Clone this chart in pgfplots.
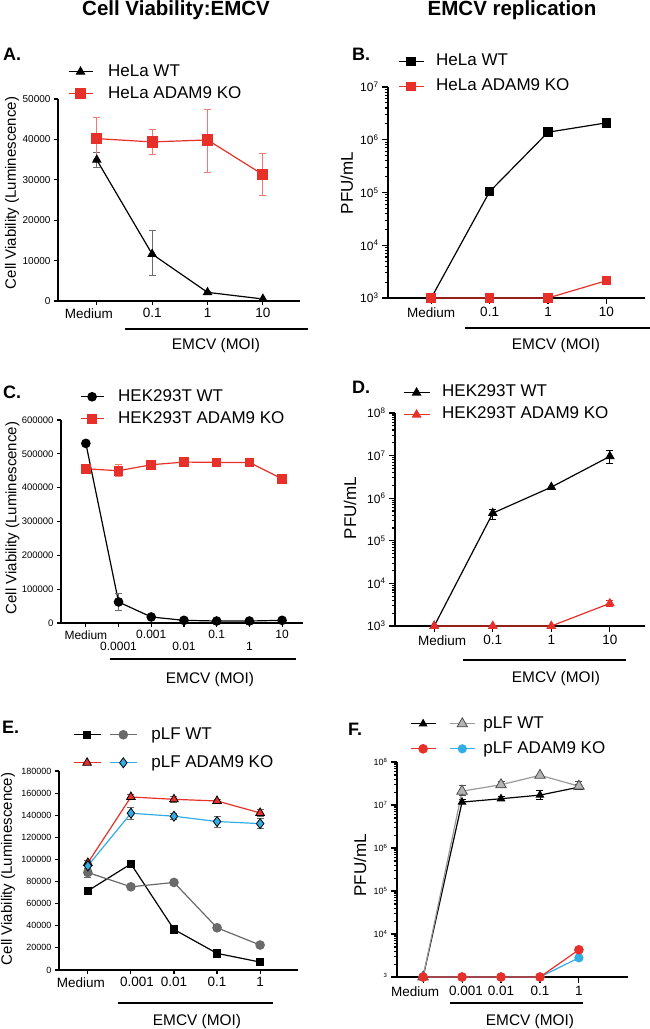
\documentclass[border=0pt]{standalone}
\usepackage{pgfplots}
\pgfplotsset{compat=1.18}
\usepackage{fontspec}
\setmainfont{Liberation Sans}
\newcommand{\fs}[1]{\fontsize{#1}{#1}\selectfont}
\definecolor{myred}{HTML}{E8302A}
\definecolor{errred}{HTML}{EE7A72}
\definecolor{myblue}{HTML}{33AEE4}
\definecolor{dgray}{HTML}{6A6A6A}
\definecolor{lgray}{HTML}{B4B4B4}
\definecolor{mgray}{HTML}{9A9A9A}
\pgfplotsset{
  panel/.style={
    scale only axis, clip=false, anchor=south west,
    axis lines*=left,
    tick align=outside,
    tick style={black, line width=1.1pt},
    major tick length=4pt,
    scaled ticks=false,
    xticklabel style={font=\fs{13.5}},
    yticklabel style={font=\fs{10}},
    ylabel style={font=\fs{15}, anchor=center},
    legend style={draw=none, fill=none, inner sep=0pt, outer sep=0pt, font=\fs{17}, anchor=north west,
      nodes={inner sep=0pt, text height=12.5pt, text depth=4pt}},
    legend cell align=left,
  },
  logpanel/.style={major tick length=6pt},
  eb/.style={error bars/.cd, y dir=both, y explicit, error bar style={line width=0.8pt,#1},
    error mark options={rotate=90, mark size=3.5pt, line width=0.8pt, #1}},
  limg/.style={legend image code/.code={\draw[mark repeat=2,mark phase=2,##1] plot coordinates {(0pt,0pt)(#1pt/2,0pt)(#1pt,0pt)};}},
}
\newcommand{\axlines}{\draw[line width=1.3pt, black] (rel axis cs:0,1) -- (rel axis cs:0,0) -- (rel axis cs:1,0);}
% manual ticks: #1 = xmin (or ymin), #2 = list, #3 = length in pt
\newcommand{\yticksat}[3]{\pgfplotsinvokeforeach{#2}{\draw[black, line width=1pt] (axis cs:#1,##1) -- ++(-#3pt,0pt);}}
\newcommand{\xticksat}[3]{\pgfplotsinvokeforeach{#2}{\draw[black, line width=1pt] (axis cs:##1,#1) -- ++(0pt,-#3pt);}}
\newcommand{\minorsA}{2e3,3e3,4e3,5e3,6e3,7e3,8e3,9e3,2e4,3e4,4e4,5e4,6e4,7e4,8e4,9e4,2e5,3e5,4e5,5e5,6e5,7e5,8e5,9e5,2e6,3e6,4e6,5e6,6e6,7e6,8e6,9e6}
\newcommand{\minorsB}{2e3,3e3,4e3,5e3,6e3,7e3,8e3,9e3,2e4,3e4,4e4,5e4,6e4,7e4,8e4,9e4,2e5,3e5,4e5,5e5,6e5,7e5,8e5,9e5,2e6,3e6,4e6,5e6,6e6,7e6,8e6,9e6,2e7,3e7,4e7,5e7,6e7,7e7,8e7,9e7}
\begin{document}
\begin{tikzpicture}
\path[use as bounding box] (0pt,0pt) rectangle (650pt,-1029pt);

% ---------------- A ----------------
\begin{axis}[panel, at={(58pt,-301pt)}, width=242pt, height=202pt,
  xmin=-0.7, xmax=3.67, ymin=0, ymax=50000,
  xtick={0,1,2,3}, xticklabels={\hspace*{-16pt}Medium,0.1,1,10},
  ytick={0,10000,20000,30000,40000,50000}, yticklabels={0,10000,20000,30000,40000,50000},
  ylabel={Cell Viability (Luminescence)}, ylabel style={at={(axis description cs:-0.19,0.535)}},
  limg=24, legend style={at={(0.041,1.1757)}, /tikz/column 1/.style={column sep=15pt}, row sep=5.5pt},
]
\axlines
\yticksat{-0.7}{0,10000,20000,30000,40000,50000}{4}
\xticksat{0}{0,1,2,3}{3.5}
\addplot[black, line width=1.2pt, mark=triangle*, mark size=4.5pt, eb=dgray] coordinates {
 (0,34930) +- (0,1850) (1,11610) += (0,5770) -= (0,5180) (2,2140) +- (0,300) (3,500) +- (0,200)};
\addlegendentry{HeLa WT}
\addplot[myred, line width=1.2pt, mark=square*, mark size=5pt, eb=errred] coordinates {
 (0,40200) += (0,5270) -= (0,5110) (1,39370) += (0,3220) -= (0,3040) (2,39870) += (0,7660) -= (0,7990) (3,31300) +- (0,5270)};
\addlegendentry{HeLa ADAM9 KO}
\end{axis}

% ---------------- B ----------------
\begin{axis}[panel, logpanel, at={(388pt,-298pt)}, width=257pt, height=211pt, ymode=log,
  xmin=-0.74, xmax=3.66, ymin=1e3, ymax=1e7,
  xtick={0,1,2,3}, xticklabels={Medium,0.1,1,10},
  ytick={1e3,1e4,1e5,1e6,1e7},
  yticklabels={10\textsuperscript{3},10\textsuperscript{4},10\textsuperscript{5},10\textsuperscript{6},10\textsuperscript{7}},
  yticklabel style={font=\fs{12}},
  ylabel={PFU/mL}, ylabel style={font=\fs{17}, at={(axis description cs:-0.16,0.545)}},
  limg=25, legend style={at={(0.039,1.159)}, /tikz/column 1/.style={column sep=12pt}, row sep=8.5pt},
]
\axlines
\yticksat{-0.74}{1e3,1e4,1e5,1e6,1e7}{6}
\yticksat{-0.74}{\minorsA}{3.5}
\xticksat{1e3}{0,1,2,3}{3.5}
\addplot[black, line width=1.2pt, mark=square*, mark size=4.2pt] coordinates {
 (0,1000) (1,1.04e5) (2,1.39e6) (3,2.09e6)};
\addlegendentry{HeLa WT}
\addplot[myred, line width=1.2pt, mark=square*, mark size=4.2pt] coordinates {
 (0,1000) (1,1000) (2,1000) (3,2130)};
\addlegendentry{HeLa ADAM9 KO}
\end{axis}

% ---------------- C ----------------
\begin{axis}[panel, at={(61pt,-623pt)}, width=242pt, height=203pt,
  xmin=-0.76, xmax=6.64, ymin=0, ymax=600000,
  xtick={0,2,4,6}, xticklabels={Medium,0.001,0.1,10},
  extra x ticks={1,3,5}, extra x tick labels={0.0001,0.01,1},
  extra x tick style={tick label style={yshift=-12pt}},
  xticklabel style={font=\fs{12}},
  ytick={0,100000,200000,300000,400000,500000,600000},
  yticklabels={0,100000,200000,300000,400000,500000,600000},
  yticklabel style={font=\fs{9.5}},
  ylabel={Cell Viability (Luminescence)}, ylabel style={at={(axis description cs:-0.2,0.517)}},
  limg=23, legend style={at={(0.0785,1.155)}, /tikz/column 1/.style={column sep=14pt}, row sep=5.5pt},
]
\axlines
\yticksat{-0.76}{0,100000,200000,300000,400000,500000,600000}{4}
\xticksat{0}{0,1,2,3,4,5,6}{3}
\addplot[black, line width=1.2pt, mark=*, mark size=4.2pt, eb=dgray] coordinates {
 (0,530900) +- (0,3000) (1,62200) +- (0,24500) (2,17800) +- (0,2000) (3,7900) +- (0,2000) (4,5900) +- (0,1500) (5,5900) +- (0,1500) (6,7900) +- (0,1500)};
\addlegendentry{HEK293T WT}
\addplot[myred, line width=1.2pt, mark=square*, mark size=4.2pt, eb=errred] coordinates {
 (0,456000) +- (0,4000) (1,450000) +- (0,18000) (2,467800) +- (0,4000) (3,475700) +- (0,3000) (4,474700) +- (0,3000) (5,474700) +- (0,3000) (6,426300) +- (0,3000)};
\addlegendentry{HEK293T ADAM9 KO}
\end{axis}

% ---------------- D ----------------
\begin{axis}[panel, logpanel, at={(395pt,-626pt)}, width=250pt, height=213pt, ymode=log,
  xmin=-0.67, xmax=3.6, ymin=1e3, ymax=1e8,
  xtick={0,1,2,3}, xticklabels={Medium\hspace*{-16pt},0.1,1,10},
  ytick={1e3,1e4,1e5,1e6,1e7,1e8},
  yticklabels={10\textsuperscript{3},10\textsuperscript{4},10\textsuperscript{5},10\textsuperscript{6},10\textsuperscript{7},10\textsuperscript{8}},
  yticklabel style={font=\fs{12}},
  ylabel={PFU/mL}, ylabel style={font=\fs{17}, at={(axis description cs:-0.18,0.554)}},
  limg=26, legend style={at={(0.032,1.134)}, /tikz/column 1/.style={column sep=12pt}, row sep=5.5pt},
]
\axlines
\yticksat{-0.67}{1e3,1e4,1e5,1e6,1e7,1e8}{6}
\yticksat{-0.67}{\minorsB}{3.5}
\xticksat{1e3}{0,1,2,3}{3.5}
\addplot[black, line width=1.2pt, mark=triangle*, mark size=4.5pt, eb=black] coordinates {
 (0,1000) (1,4.46e5) += (0,1.1e5) -= (0,1.3e5) (2,1.82e6) (3,9.6e6) += (0,3.6e6) -= (0,3.0e6)};
\addlegendentry{HEK293T WT}
\addplot[myred, line width=1.2pt, mark=triangle*, mark size=4.5pt, eb=myred] coordinates {
 (0,1000) (1,1000) (2,1000) (3,3400) += (0,540) -= (0,450)};
\addlegendentry{HEK293T ADAM9 KO}
\end{axis}

% ---------------- E ----------------
\begin{axis}[panel, at={(59pt,-970pt)}, width=239pt, height=199pt,
  xmin=-0.67, xmax=4.88, ymin=0, ymax=180000,
  xtick={0,1,2,3,4}, xticklabels={\hspace*{-14pt}Medium,0.001\hspace*{-12pt},0.01,0.1,1},
  ytick={0,20000,40000,60000,80000,100000,120000,140000,160000,180000},
  yticklabels={0,20000,40000,60000,80000,100000,120000,140000,160000,180000},
  yticklabel style={font=\fs{9}},
  ylabel={Cell Viability (Luminescence)}, ylabel style={at={(axis description cs:-0.213,0.508)}},
  limg=27, legend columns=2,
  legend style={at={(0.0586,1.2236)}, /tikz/column 1/.style={column sep=7pt}, /tikz/column 3/.style={column sep=14pt}, row sep=11.5pt},
]
\axlines
\yticksat{-0.67}{0,20000,40000,60000,80000,100000,120000,140000,160000,180000}{4}
\xticksat{0}{0,1,2,3,4}{3.5}
\addplot[black, line width=1.2pt, mark=square*, mark size=3.6pt] coordinates {
 (0,71600) (1,96000) (2,36700) (3,15050) (4,7200)};
\addlegendentry{\hbox{}}
\addplot[dgray, line width=1.2pt, mark=*, mark size=4.2pt, eb=dgray] coordinates {
 (0,88200) +- (0,4000) (1,75250) +- (0,1500) (2,79200) +- (0,2000) (3,38200) +- (0,1500) (4,22600) +- (0,1500)};
\addlegendentry{pLF WT}
\addplot[myred, line width=1.2pt, mark=triangle*, mark size=5pt, mark options={draw=black, fill=myred, line width=0.8pt}, eb=dgray] coordinates {
 (0,96900) +- (0,2000) (1,156500) +- (0,2000) (2,154400) +- (0,2500) (3,152900) +- (0,1500) (4,142100) +- (0,3000)};
\addlegendentry{\hbox{}}
\addplot[myblue, line width=1.2pt, mark=diamond*, mark size=5pt, mark options={draw=black, fill=myblue, line width=0.8pt}, eb=dgray] coordinates {
 (0,94200) +- (0,2000) (1,141800) +- (0,5500) (2,139100) +- (0,2500) (3,134300) +- (0,5000) (4,132400) +- (0,4500)};
\addlegendentry{pLF ADAM9 KO}
\end{axis}

% ---------------- F ----------------
\begin{axis}[panel, logpanel, at={(397pt,-977pt)}, width=231pt, height=215pt, ymode=log,
  xmin=-0.67, xmax=5.26, ymin=1e3, ymax=1e8,
  xtick={0,1,2,3,4}, xticklabels={\hspace*{-16pt}Medium,0.001\hspace*{-8pt},0.01,0.1,1},
  ytick={1e3,1e4,1e5,1e6,1e7,1e8},
  yticklabels={\textsuperscript{3},10\textsuperscript{4},10\textsuperscript{5},10\textsuperscript{6},10\textsuperscript{7},10\textsuperscript{8}},
  yticklabel style={font=\fs{9}},
  ylabel={PFU/mL}, ylabel style={font=\fs{17}, at={(axis description cs:-0.16,0.52)}},
  limg=25, legend columns=2,
  legend style={at={(0.0563,1.216)}, /tikz/column 1/.style={column sep=12pt}, /tikz/column 3/.style={column sep=8pt}, row sep=8.5pt},
]
\axlines
\yticksat{-0.67}{1e3,1e4,1e5,1e6,1e7,1e8}{6}
\yticksat{-0.67}{\minorsB}{3.5}
\xticksat{1e3}{0,1,2,3,4}{3.5}
\addlegendimage{black, line width=1.2pt, mark=triangle*, mark size=4pt}
\addlegendentry{\hbox{}}
\addlegendimage{mgray, line width=1.2pt, mark=triangle*, mark size=6pt, mark options={draw=black!70, fill=lgray, line width=0.8pt}}
\addlegendentry{pLF WT}
\addlegendimage{myred, line width=1.2pt, mark=*, mark size=4.2pt}
\addlegendentry{\hbox{}}
\addlegendimage{myblue, line width=1.2pt, mark=*, mark size=4pt}
\addlegendentry{pLF ADAM9 KO}
\addplot[forget plot, black, line width=1.2pt, mark=triangle*, mark size=4pt, eb=black] coordinates {
 (0,1000) (1,1.17e7) += (0,0.15e7) -= (0,0.1e7) (2,1.4e7) +- (0,0.15e7) (3,1.7e7) += (0,0.5e7) -= (0,0.35e7) (4,2.6e7) += (0,0.4e7) -= (0,0.3e7)};
\addplot[forget plot, mgray, line width=1.2pt, mark=triangle*, mark size=6pt, mark options={draw=black!70, fill=lgray, line width=0.8pt}, eb=black!70] coordinates {
 (0,1000) (1,2.1e7) += (0,0.7e7) -= (0,0.4e7) (2,2.96e7) += (0,0.5e7) -= (0,0.4e7) (3,4.9e7) (4,2.75e7) += (0,0.7e7) -= (0,0.5e7)};
\addplot[forget plot, myblue, line width=1.2pt, mark=*, mark size=4pt, eb=myblue] coordinates {
 (0,1000) (1,1000) (2,1000) (3,1000) (4,2800) +- (0,300)};
\addplot[forget plot, myred, line width=1.2pt, mark=*, mark size=4.2pt] coordinates {
 (0,1000) (1,1000) (2,1000) (3,1000) (4,4300)};
\end{axis}

% ---------------- titles, letters, x-group labels ----------------
\node[anchor=base, font=\bfseries\fs{20.5}] at (176pt,-15pt) {Cell Viability:EMCV};
\node[anchor=base, font=\bfseries\fs{20.5}] at (512pt,-15pt) {EMCV replication};
\node[anchor=base west, inner sep=0pt, font=\bfseries\fs{18}] at (3pt,-60pt) {A.};
\node[anchor=base west, inner sep=0pt, font=\bfseries\fs{18}] at (352pt,-60pt) {B.};
\node[anchor=base west, inner sep=0pt, font=\bfseries\fs{18}] at (3pt,-398pt) {C.};
\node[anchor=base west, inner sep=0pt, font=\bfseries\fs{18}] at (352pt,-393pt) {D.};
\node[anchor=base west, inner sep=0pt, font=\bfseries\fs{18}] at (2pt,-733pt) {E.};
\node[anchor=base west, inner sep=0pt, font=\bfseries\fs{18}] at (348pt,-735pt) {F.};

\draw[line width=1.3pt] (125pt,-329pt) -- (308pt,-329pt);
\node[anchor=base, font=\fs{15.4}] at (216pt,-349pt) {EMCV (MOI)};
\draw[line width=1.3pt] (465pt,-328pt) -- (650pt,-328pt);
\node[anchor=base, font=\fs{15.4}] at (556pt,-349pt) {EMCV (MOI)};
\draw[line width=1.3pt] (110pt,-659pt) -- (296pt,-659pt);
\node[anchor=base, font=\fs{15.4}] at (210pt,-683pt) {EMCV (MOI)};
\draw[line width=1.3pt] (463pt,-660pt) -- (626pt,-660pt);
\node[anchor=base, font=\fs{15.4}] at (556pt,-682pt) {EMCV (MOI)};
\draw[line width=1.3pt] (118pt,-1003pt) -- (273pt,-1003pt);
\node[anchor=base, font=\fs{15.4}] at (197pt,-1025pt) {EMCV (MOI)};
\draw[line width=1.3pt] (450pt,-1003pt) -- (583pt,-1003pt);
\node[anchor=base, font=\fs{15.4}] at (530pt,-1025pt) {EMCV (MOI)};
\end{tikzpicture}
\end{document}
